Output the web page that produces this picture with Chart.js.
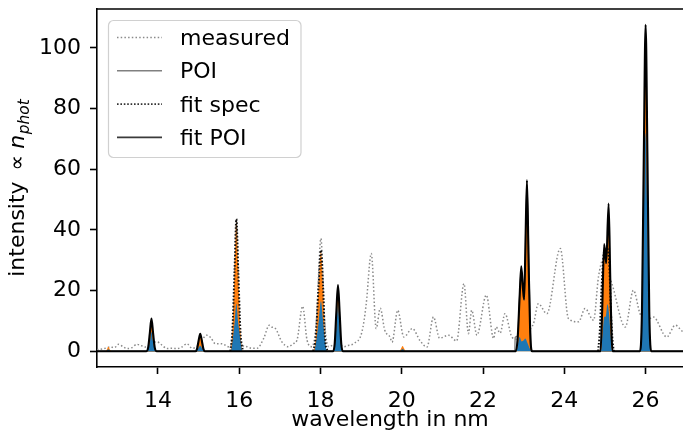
<!DOCTYPE html>
<html>
<head>
<meta charset="utf-8">
<script src="https://cdn.jsdelivr.net/npm/chart.js@4"></script>
<style>
  body { margin: 0; background: #fff; }
  canvas { display: block; }
</style>
</head>
<body>
<canvas id="spec" width="683" height="434"></canvas>
<script>
// axis ticks
const xTicks = [14, 16, 18, 20, 22, 24, 26];
const yTicks = [0, 20, 40, 60, 80, 100];

// measured spectrum (wavelength in nm / intensity)
const wlMeasured = [12.5, 12.65, 12.83, 12.93, 13.03, 13.14, 13.24, 13.36, 13.48, 13.6, 13.69, 13.8, 13.9, 13.98,
  14.1, 14.22, 14.35, 14.47, 14.6, 14.71, 14.84, 14.95, 15.07, 15.2, 15.3, 15.41, 15.57, 15.74, 15.84, 15.93,
  16.02, 16.1, 16.19, 16.3, 16.44, 16.6, 16.74, 16.8, 16.89, 17.05, 17.21, 17.33, 17.42, 17.56, 17.67, 17.79,
  17.9, 18.01, 18.1, 18.2, 18.3, 18.43, 18.57, 18.7, 18.81, 19.02, 19.12, 19.25, 19.37, 19.47, 19.58, 19.71,
  19.76, 19.9, 20.05, 20.26, 20.45, 20.62, 20.78, 20.93, 21.15, 21.35, 21.53, 21.64, 21.72, 21.85, 22.08, 22.26,
  22.32, 22.42, 22.54, 22.71, 22.83, 23.0, 23.24, 23.36, 23.57, 23.9, 24.1, 24.35, 24.51, 24.72, 24.84, 24.95,
  25.17, 25.5, 25.7, 25.86, 26.0, 26.19, 26.52, 26.73, 26.92, 27.0];
const intMeasured = [0.5, 0.8, 1.4, 1.2, 2.3, 1.5, 0.9, 1.2, 2.3, 1.8, 1.4, 2.0, 3.0, 3.1,
  2.0, 0.9, 1.0, 0.9, 1.5, 2.5, 1.0, 1.5, 3.5, 5.3, 4.5, 2.5, 2.5, 1.5, 5.0, 42.0,
  5.0, 1.8, 1.5, 1.0, 1.0, 4.2, 8.6, 8.0, 7.5, 3.1, 1.5, 2.5, 3.6, 14.8, 3.6, 1.5,
  10.0, 37.2, 10.0, 1.5, 2.0, 2.5, 1.5, 2.0, 2.5, 6.4, 15.0, 32.2, 7.5, 14.2, 7.0, 4.7,
  3.0, 13.5, 4.7, 7.5, 3.5, 1.4, 11.3, 4.3, 5.3, 3.4, 22.3, 5.8, 13.5, 5.3, 18.5, 4.2,
  8.0, 6.0, 12.4, 4.7, 4.0, 6.0, 9.1, 15.7, 12.4, 33.9, 10.8, 9.7, 14.1, 10.2, 24.5, 30.0,
  22.3, 8.0, 20.1, 12.5, 10.0, 11.3, 4.7, 8.6, 6.4, 6.0];

// points of interest
const wlPoi = [12.5, 22.78, 22.79, 22.85, 22.9, 22.94, 23.01, 23.08, 23.14, 23.2, 27.0];
const intPoi = [0, 0, 4.6, 5.0, 18.0, 27.0, 16.0, 55.0, 20.0, 0, 0];

// second fit component (orange)
const wlComp2 = [12.5, 12.7, 12.74, 12.78, 12.82, 12.86,
  13.71, 13.76, 13.8, 13.84, 13.88, 13.92, 13.97,
  14.92, 14.96, 15.0, 15.04, 15.08, 15.12, 15.16,
  15.78, 15.83, 15.885, 15.93, 15.975, 16.03, 16.09,
  17.82, 17.88, 17.95, 18.01, 18.065, 18.11, 18.17,
  18.31, 18.35, 18.39, 18.43, 18.47, 18.51, 18.55,
  19.94, 19.98, 20.02, 20.06, 20.1,
  22.8, 22.85, 22.9, 22.94, 22.98, 23.01, 23.04, 23.08, 23.12, 23.16, 23.21,
  24.86, 24.9, 24.94, 24.98, 25.03, 25.09, 25.13, 25.17, 25.2,
  25.86, 25.91, 25.955, 26.0, 26.045, 26.09, 26.14, 27.0];
const intComp2 = [0, 0, 0.5, 1.5, 0.5, 0,
  0, 1.3, 5.8, 10.0, 5.8, 1.3, 0,
  0, 0.7, 3.3, 5.4, 3.3, 0.7, 0,
  0, 6.5, 27.0, 43.2, 27.0, 6.5, 0,
  0, 4.5, 21.0, 33.0, 21.0, 4.5, 0,
  0, 2.5, 12.5, 20.5, 12.5, 2.5, 0,
  0, 0.8, 1.7, 0.8, 0,
  0, 3.8, 17.5, 27.5, 20.5, 16.5, 32.5, 55.5, 29.5, 5.8, 0,
  0, 4.0, 16.0, 34.5, 28.5, 48.0, 23.5, 6.0, 0,
  0, 12.5, 61.0, 102.0, 61.0, 12.5, 0, 0];

// first fit component (blue)
const wlComp1 = [12.5, 12.72, 12.78, 12.84,
  13.72, 13.77, 13.81, 13.84, 13.87, 13.91, 13.96,
  14.94, 14.99, 15.04, 15.09, 15.14,
  15.79, 15.84, 15.89, 15.93, 15.97, 16.03, 16.08,
  17.84, 17.9, 17.96, 18.01, 18.06, 18.11, 18.16,
  18.32, 18.36, 18.4, 18.43, 18.46, 18.5, 18.54,
  19.96, 20.02, 20.08,
  22.82, 22.86, 22.9, 22.95, 23.0, 23.04, 23.09, 23.14, 23.2,
  24.9, 24.94, 24.98, 25.02, 25.06, 25.1, 25.14, 25.18,
  25.87, 25.915, 25.96, 26.0, 26.04, 26.085, 26.13, 27.0];
const intComp1 = [0, 0, 0.7, 0,
  0, 1.2, 3.8, 6.4, 3.8, 1.2, 0,
  0, 0.9, 1.8, 0.9, 0,
  0, 4.0, 10.0, 15.7, 10.0, 4.0, 0,
  0, 4.0, 10.5, 16.5, 10.5, 4.0, 0,
  0, 2.5, 10.0, 15.7, 10.0, 2.5, 0,
  0, 0.8, 0,
  0, 2.5, 4.7, 3.2, 3.6, 4.2, 2.8, 1.2, 0,
  0, 5.5, 11.3, 11.5, 15.5, 12.5, 5.0, 0,
  0, 11.0, 46.0, 72.0, 46.0, 11.0, 0, 0];

// fit of the whole spectrum (null = not drawn)
const wlFitSpec = [15.78, 15.83, 15.885, 15.93, 15.975, 16.03, 16.09, 16.1,
  17.82, 17.88, 17.95, 18.01, 18.065, 18.11, 18.17, 18.2,
  24.83, 24.87, 24.92, 24.98, 25.04, 25.1, 25.15, 25.19, 25.22];
const intFitSpec = [0, 6.5, 27.0, 43.6, 27.0, 6.5, 0, null,
  0, 4.5, 21.0, 33.3, 21.0, 4.5, 0, null,
  0, 6.0, 22.0, 33.0, 34.0, 30.0, 12.0, 3.0, 0];

// fit of the points of interest
const wlFitPoi = [12.5,
  13.71, 13.76, 13.8, 13.84, 13.88, 13.92, 13.97,
  14.92, 14.96, 15.0, 15.04, 15.08, 15.12, 15.16,
  18.31, 18.35, 18.39, 18.43, 18.47, 18.51, 18.55,
  22.8, 22.85, 22.9, 22.94, 22.98, 23.01, 23.04, 23.08, 23.12, 23.16, 23.21,
  24.89, 24.93, 24.98, 25.03, 25.09, 25.13, 25.16, 25.19,
  25.86, 25.91, 25.955, 26.0, 26.045, 26.09, 26.14, 27.0];
const intFitPoi = [0,
  0, 1.3, 6.0, 10.8, 6.0, 1.3, 0,
  0, 0.7, 3.5, 5.8, 3.5, 0.7, 0,
  0, 2.6, 13.0, 21.8, 13.0, 2.6, 0,
  0, 4.0, 18.0, 28.0, 21.0, 17.0, 33.0, 56.4, 30.0, 6.0, 0,
  0, 13.0, 35.3, 29.0, 48.7, 24.0, 6.0, 0,
  0, 13.0, 64.0, 107.6, 64.0, 13.0, 0, 0];

const FONT = '"DejaVu Sans", sans-serif';

function pts(xs, ys) {
  return xs.map((x, i) => ({ x: x, y: ys[i] }));
}

// legend in a rounded box, drawn from the dataset styles
const boxLegend = {
  id: 'boxLegend',
  afterDraw(chart) {
    const ctx = chart.ctx;
    ctx.save();
    const bx = 108.5, by = 20.5, bw = 192.5, bh = 137;
    ctx.beginPath();
    ctx.roundRect(bx, by, bw, bh, 5);
    ctx.fillStyle = 'rgba(255,255,255,0.8)';
    ctx.fill();
    ctx.strokeStyle = '#d0d0d0';
    ctx.lineWidth = 1.2;
    ctx.stroke();
    ctx.font = '22px ' + FONT;
    ctx.textBaseline = 'alphabetic';
    ctx.textAlign = 'left';
    let base = 45;
    chart.data.datasets.forEach(ds => {
      if (!ds.inLegend) return;
      ctx.beginPath();
      ctx.setLineDash(ds.borderDash || []);
      ctx.strokeStyle = ds.legendColor || ds.borderColor;
      ctx.lineWidth = Math.min(ds.borderWidth, 1.8);
      ctx.moveTo(117, base - 7.5);
      ctx.lineTo(162, base - 7.5);
      ctx.stroke();
      ctx.setLineDash([]);
      ctx.fillStyle = '#000';
      ctx.fillText(ds.label, 180, base);
      base += 33.3;
    });
    ctx.restore();
  }
};

// axis titles, top spine
const axisTitles = {
  id: 'axisTitles',
  afterDraw(chart) {
    const ctx = chart.ctx, a = chart.chartArea;
    ctx.save();
    ctx.strokeStyle = '#000';
    ctx.lineWidth = 1.6;
    ctx.beginPath();
    ctx.moveTo(a.left - 0.8, a.top);
    ctx.lineTo(a.right, a.top);
    ctx.stroke();

    ctx.fillStyle = '#000';
    ctx.textBaseline = 'alphabetic';
    ctx.textAlign = 'left';
    ctx.font = '22px ' + FONT;
    const xt = 'wavelength in nm';
    ctx.fillText(xt, (a.left + a.right) / 2 - ctx.measureText(xt).width / 2, 426);

    // intensity ∝ n_phot, rotated
    const parts = [
      { t: 'intensity', f: '22px ' + FONT, dy: 0, gap: 0 },
      { t: '\u221D', f: '22px ' + FONT, dy: 0, gap: 11 },
      { t: 'n', f: 'italic 22px ' + FONT, dy: 0, gap: 6 },
      { t: 'phot', f: 'italic 15.4px ' + FONT, dy: 4.5, gap: 0.5 }
    ];
    let total = 0;
    parts.forEach(p => { ctx.font = p.f; p.w = ctx.measureText(p.t).width; total += p.gap + p.w; });
    ctx.translate(24, (a.top + a.bottom) / 2);
    ctx.rotate(-Math.PI / 2);
    let x = -total / 2;
    parts.forEach(p => {
      x += p.gap;
      ctx.font = p.f;
      ctx.fillText(p.t, x, p.dy);
      x += p.w;
    });
    ctx.restore();
  }
};

const ctx = document.getElementById('spec').getContext('2d');
new Chart(ctx, {
  type: 'line',
  data: {
    datasets: [
      {
        label: 'measured', data: pts(wlMeasured, intMeasured), inLegend: true,
        borderColor: '#8a8a8a', borderWidth: 1.5, borderDash: [1.5, 2.2], fill: false, order: 6
      },
      {
        label: 'POI', data: pts(wlPoi, intPoi), inLegend: true,
        borderColor: '#808080', borderWidth: 1.4, fill: false, order: 5
      },
      {
        label: 'comp 2', data: pts(wlComp2, intComp2),
        borderWidth: 0, borderColor: 'rgba(0,0,0,0)', backgroundColor: '#ff7f0e', fill: 'origin', order: 4
      },
      {
        label: 'comp 1', data: pts(wlComp1, intComp1),
        borderWidth: 0, borderColor: 'rgba(0,0,0,0)', backgroundColor: '#1f77b4', fill: 'origin', order: 3
      },
      {
        label: 'fit spec', data: pts(wlFitSpec, intFitSpec), inLegend: true, legendColor: '#333',
        borderColor: '#111', borderWidth: 2.0, borderDash: [1.6, 1.8], fill: false, spanGaps: false, order: 2
      },
      {
        label: 'fit POI', data: pts(wlFitPoi, intFitPoi), inLegend: true, legendColor: '#3a3a3a',
        borderColor: '#000', borderWidth: 2.1, fill: false, order: 1
      }
    ]
  },
  options: {
    responsive: false,
    animation: false,
    devicePixelRatio: 1,
    layout: { padding: { top: 9, right: 0, bottom: 0, left: 0 } },
    elements: {
      point: { radius: 0 },
      line: { cubicInterpolationMode: 'monotone', borderJoinStyle: 'round' }
    },
    plugins: {
      legend: { display: false },
      tooltip: { enabled: false }
    },
    scales: {
      x: {
        type: 'linear',
        min: 12.5,
        max: 26.92,
        afterFit(scale) {
          scale.height = 67;
          scale.paddingLeft = 0;
          scale.paddingRight = 0;
        },
        afterBuildTicks(scale) { scale.ticks = xTicks.map(v => ({ value: v })); },
        grid: { drawOnChartArea: false, drawTicks: true, tickLength: 7, tickWidth: 1.6, tickColor: '#000' },
        border: { display: true, color: '#000', width: 1.6 },
        ticks: { color: '#000', font: { family: FONT, size: 22 }, padding: 14, maxRotation: 0, autoSkip: false }
      },
      y: {
        type: 'linear',
        min: -5.18,
        max: 112.8,
        afterFit(scale) {
          scale.width = 97;
          scale.paddingTop = 0;
          scale.paddingBottom = 0;
        },
        afterBuildTicks(scale) { scale.ticks = yTicks.map(v => ({ value: v })); },
        grid: { drawOnChartArea: false, drawTicks: true, tickLength: 7, tickWidth: 1.6, tickColor: '#000' },
        border: { display: true, color: '#000', width: 1.6 },
        ticks: { color: '#000', font: { family: FONT, size: 22 }, padding: 9, autoSkip: false }
      }
    }
  },
  plugins: [boxLegend, axisTitles]
});
</script>
</body>
</html>
